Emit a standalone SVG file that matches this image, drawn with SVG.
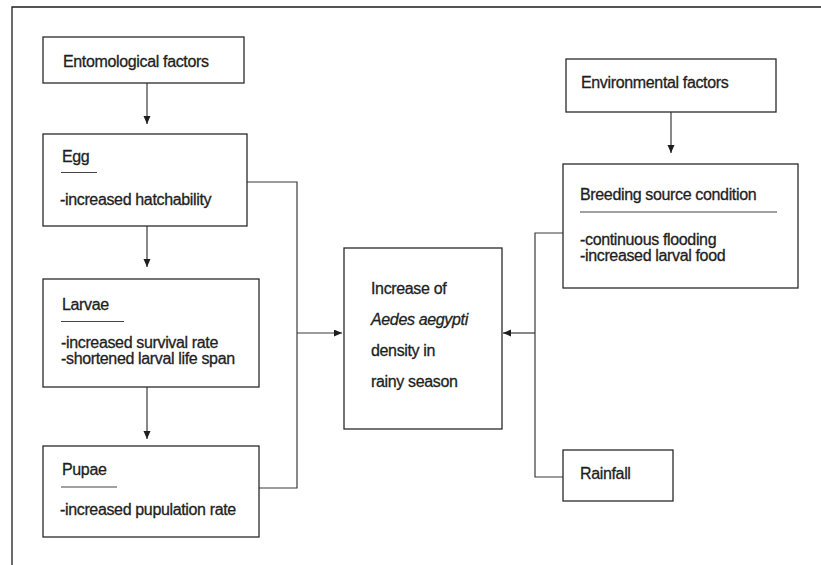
<svg xmlns="http://www.w3.org/2000/svg" width="821" height="565" viewBox="0 0 821 565">
<style>
.box{fill:#fff;stroke:#2a2a2a;stroke-width:1.3}
.t{font-family:"Liberation Sans",Arial,sans-serif;font-size:16px;fill:#1e1e1e;stroke:#1e1e1e;stroke-width:0.3px;letter-spacing:-0.35px}
.it{font-style:italic}
.ul{stroke:#444;stroke-width:1.2}
.c{fill:none;stroke:#3a3a3a;stroke-width:1.2}
</style>
<defs>
<marker id="ah" markerUnits="userSpaceOnUse" markerWidth="9" markerHeight="8" refX="8" refY="3.5" orient="auto">
<path d="M0,0 L8,3.5 L0,7 z" fill="#1e1e1e"/>
</marker>
</defs>
<rect width="821" height="565" fill="#fff"/>
<path d="M12,565 V7 H821" fill="none" stroke="#1e1e1e" stroke-width="1.3"/>
<g id="connectors">
<line class="c" x1="147" y1="83" x2="147" y2="124" marker-end="url(#ah)"/>
<line class="c" x1="147" y1="226" x2="147" y2="267" marker-end="url(#ah)"/>
<line class="c" x1="147" y1="387" x2="147" y2="439" marker-end="url(#ah)"/>
<polyline class="c" points="247,182 297,182 297,488 259,488"/>
<line class="c" x1="297" y1="333" x2="342" y2="333" marker-end="url(#ah)"/>
<line class="c" x1="671" y1="112" x2="671" y2="153" marker-end="url(#ah)"/>
<polyline class="c" points="563,233 535,233 535,477 563,477"/>
<line class="c" x1="535" y1="333" x2="503" y2="333" marker-end="url(#ah)"/>
</g>
<g id="entomological">
<rect class="box" x="43" y="37" width="201" height="46"/>
<text class="t" x="63" y="67">Entomological factors</text>
</g>
<g id="egg">
<rect class="box" x="43" y="134" width="204" height="92"/>
<text class="t" x="62" y="162">Egg</text>
<line class="ul" x1="61" y1="172.5" x2="97" y2="172.5"/>
<text class="t" x="60" y="205">-increased hatchability</text>
</g>
<g id="larvae">
<rect class="box" x="43" y="279" width="216" height="108"/>
<text class="t" x="62" y="310">Larvae</text>
<line class="ul" x1="61" y1="321.5" x2="124" y2="321.5"/>
<text class="t" x="61" y="348">-increased survival rate</text>
<text class="t" x="61" y="364">-shortened larval life span</text>
</g>
<g id="pupae">
<rect class="box" x="43" y="446" width="216" height="91"/>
<text class="t" x="62" y="475">Pupae</text>
<line class="ul" x1="61" y1="487" x2="117" y2="487"/>
<text class="t" x="60" y="515">-increased pupulation rate</text>
</g>
<g id="increase">
<rect class="box" x="344" y="248" width="158" height="181"/>
<text class="t" x="371" y="294">Increase of</text>
<text class="t it" x="371" y="325">Aedes aegypti</text>
<text class="t" x="371" y="356">density in</text>
<text class="t" x="371" y="387">rainy season</text>
</g>
<g id="environmental">
<rect class="box" x="566" y="59" width="210" height="53"/>
<text class="t" x="581" y="88">Environmental factors</text>
</g>
<g id="breeding">
<rect class="box" x="563" y="164" width="235" height="124"/>
<text class="t" x="580" y="200">Breeding source condition</text>
<line class="ul" x1="580" y1="212" x2="777" y2="212"/>
<text class="t" x="580" y="245">-continuous flooding</text>
<text class="t" x="580" y="261">-increased larval food</text>
</g>
<g id="rainfall">
<rect class="box" x="563" y="450" width="110" height="51"/>
<text class="t" x="580" y="479">Rainfall</text>
</g>
</svg>
